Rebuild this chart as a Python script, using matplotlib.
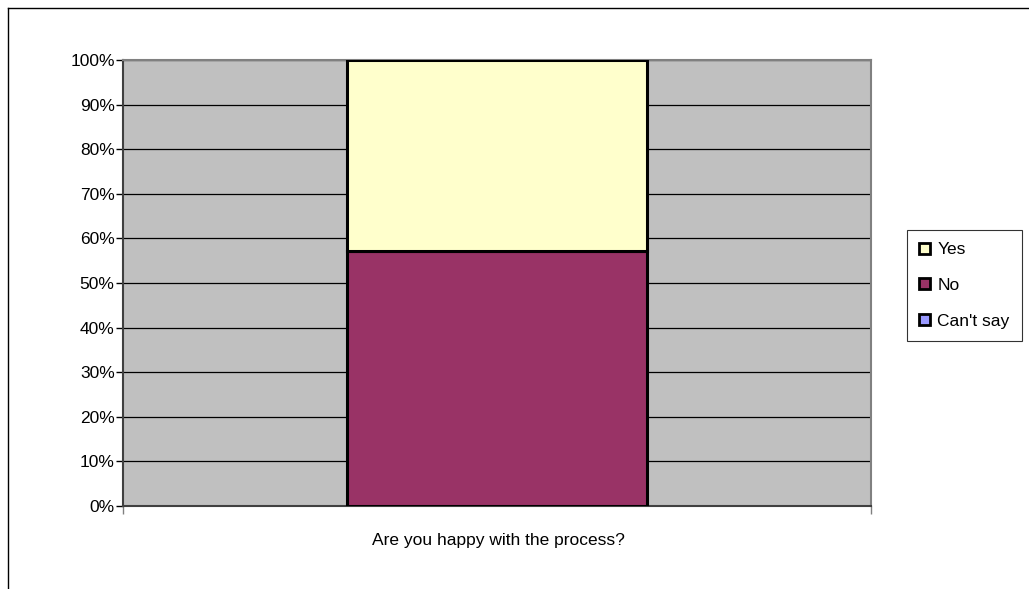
import matplotlib
matplotlib.use('Agg')
import matplotlib.pyplot as plt
from matplotlib.lines import Line2D
from matplotlib.patches import Patch
from matplotlib.ticker import PercentFormatter

plt.rcParams['font.family'] = ['Liberation Sans', 'DejaVu Sans']

question = 'Are you happy with the process?'
series = ["Can't say", 'No', 'Yes']
counts = [0, 4, 3]
colors = ['#9999ff', '#993366', '#ffffcc']

total = sum(counts)
shares = [c / total * 100 for c in counts]

fig = plt.figure(figsize=(10.29, 5.89), dpi=100)
ax = fig.add_axes([123 / 1029, 1 - 506 / 589, 748 / 1029, 446 / 589])
ax.set_facecolor('#c0c0c0')

bottom = 0
for name, val, col in zip(series, shares, colors):
    ax.bar(0, val, bottom=bottom, width=0.4, color=col, edgecolor='black',
           linewidth=2.2, label=name, zorder=3)
    bottom += val

ax.set_xlim(-0.5, 0.5)
ax.set_ylim(0, 100)
ax.set_yticks(range(0, 101, 10))
ax.yaxis.set_major_formatter(PercentFormatter(decimals=0))
ax.grid(axis='y', color='black', linewidth=0.9, zorder=1)
ax.set_axisbelow(True)

ax.set_xticks([-0.5, 0.5])
ax.set_xticklabels([])
ax.tick_params(axis='x', length=6, color='#808080', width=1)
ax.tick_params(axis='y', length=5, color='black', width=1, labelsize=12.5, pad=1)

ax.spines['top'].set_color('#808080')
ax.spines['right'].set_color('#808080')
ax.spines['left'].set_color('#404040')
ax.spines['bottom'].set_color('#404040')
for s in ax.spines.values():
    s.set_linewidth(1.5)

fig.text(498 / 1029, 1 - 541 / 589, question, ha='center', va='center', fontsize=12.5)

# legend, top entry is the top of the stack
handles = [Patch(facecolor=c, edgecolor='black', linewidth=2) for c in colors[::-1]]
leg = fig.legend(handles, series[::-1], loc='upper left',
                 bbox_to_anchor=(907 / 1029, 1 - 230 / 589),
                 fontsize=12.5, frameon=True, fancybox=False,
                 handlelength=0.6, handleheight=0.6, handletextpad=0.45,
                 labelspacing=1.2, borderpad=0.7, borderaxespad=0)
leg.get_frame().set_edgecolor('black')
leg.get_frame().set_linewidth(0.8)

# chart area border
fig.add_artist(Line2D([8 / 1029, 8 / 1029], [0, 1 - 8 / 589], color='black',
                      linewidth=1, transform=fig.transFigure))
fig.add_artist(Line2D([8 / 1029, 1], [1 - 8 / 589, 1 - 8 / 589], color='black',
                      linewidth=1, transform=fig.transFigure))

fig.savefig('out.png', dpi=100)
